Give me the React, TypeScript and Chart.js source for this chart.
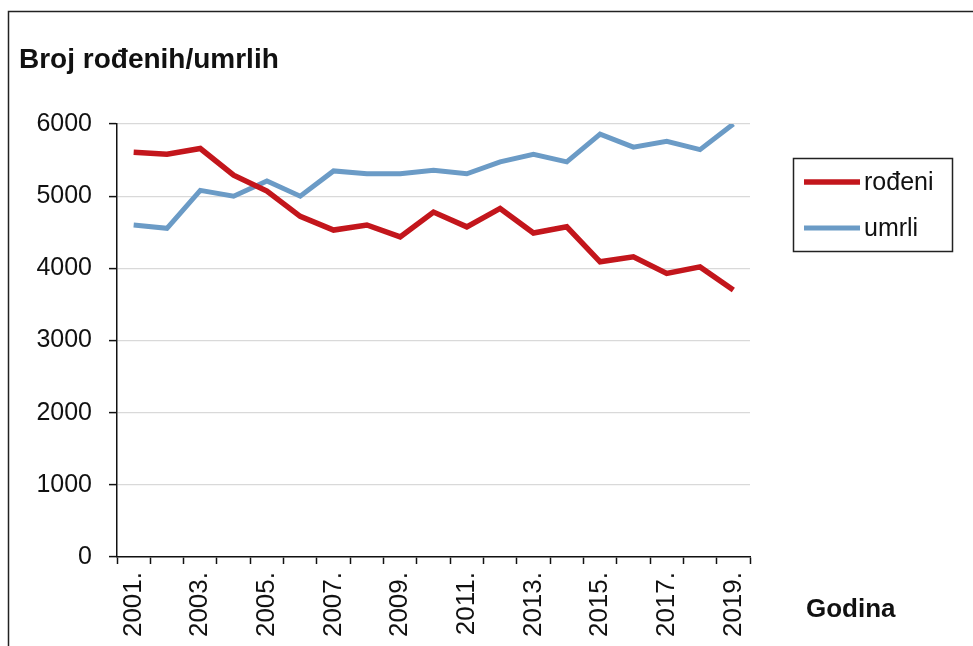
import React, { useEffect, useRef } from "react";
import { Chart, registerables } from "chart.js";

Chart.register(...registerables);

const years = ["2001.", "2002.", "2003.", "2004.", "2005.", "2006.", "2007.", "2008.", "2009.", "2010.", "2011.", "2012.", "2013.", "2014.", "2015.", "2016.", "2017.", "2018.", "2019."];
const rodeni = [5610, 5580, 5660, 5290, 5070, 4720, 4530, 4600, 4435, 4780, 4575, 4830, 4490, 4575, 4090, 4160, 3930, 4020, 3700];
const umrli = [4600, 4555, 5080, 5000, 5210, 5000, 5350, 5310, 5310, 5360, 5310, 5475, 5580, 5475, 5860, 5680, 5760, 5645, 6000];
const yTicks = [0, 1000, 2000, 3000, 4000, 5000, 6000];
const titleText = "Broj rođenih/umrlih";
const xTitleText = "Godina";

const FONT = "'Liberation Sans', Arial, sans-serif";
const RED = "#C3161C";
const BLUE = "#6B9BC6";

const decorPlugin = {
  id: "decor",
  beforeDraw(chart: any) {
    const ctx = chart.ctx;
    ctx.save();
    ctx.fillStyle = "#fff";
    ctx.fillRect(0, 0, chart.width, chart.height);
    ctx.strokeStyle = "#222";
    ctx.lineWidth = 1.5;
    ctx.beginPath();
    ctx.moveTo(8.5, chart.height);
    ctx.lineTo(8.5, 11.5);
    ctx.lineTo(chart.width, 11.5);
    ctx.stroke();
    ctx.restore();
  },
  afterDraw(chart: any) {
    const ctx = chart.ctx;
    ctx.save();
    ctx.fillStyle = "#111";
    ctx.textBaseline = "alphabetic";
    ctx.textAlign = "left";
    ctx.font = `bold 28px ${FONT}`;
    ctx.fillText(titleText, 19, 68);
    ctx.font = `bold 26px ${FONT}`;
    ctx.fillText(xTitleText, 806, 617);

    // legend
    const bx = 793.5, by = 158.5, bw = 159, bh = 93;
    ctx.strokeStyle = "#222";
    ctx.lineWidth = 1.5;
    ctx.strokeRect(bx, by, bw, bh);
    const rows = [182, 228];
    chart.data.datasets.forEach((ds: any, i: number) => {
      const y = rows[i];
      ctx.strokeStyle = ds.borderColor;
      ctx.lineWidth = ds.borderWidth;
      ctx.beginPath();
      ctx.moveTo(804, y);
      ctx.lineTo(860, y);
      ctx.stroke();
      ctx.fillStyle = "#111";
      ctx.font = `25px ${FONT}`;
      ctx.textBaseline = "middle";
      ctx.fillText(ds.label, 864, y + 1);
    });
    ctx.restore();
  },
};

export default function App() {
  const ref = useRef<HTMLCanvasElement>(null);
  useEffect(() => {
    if (!ref.current) return;
    const chart = new Chart(ref.current, {
      type: "line",
      data: {
        labels: years,
        datasets: [
          { label: "rođeni", data: rodeni, borderColor: RED, backgroundColor: RED, borderWidth: 5.5, pointRadius: 0, tension: 0 },
          { label: "umrli", data: umrli, borderColor: BLUE, backgroundColor: BLUE, borderWidth: 5, pointRadius: 0, tension: 0 },
        ],
      },
      options: {
        responsive: false,
        animation: false,
        layout: { padding: { left: 0, top: 124, right: 223, bottom: 0 } },
        plugins: { legend: { display: false }, tooltip: { enabled: false }, title: { display: false } },
        scales: {
          x: {
            type: "category",
            offset: true,
            grid: { display: true, drawOnChartArea: false, offset: true, tickLength: 7, tickColor: "#111", tickWidth: 1.5 },
            border: { color: "#111", width: 1.5 },
            ticks: {
              autoSkip: false,
              maxRotation: 90,
              minRotation: 90,
              padding: 8,
              color: "#111",
              font: { size: 26, family: FONT },
              callback: (_v: any, i: number) => (i % 2 === 0 ? years[i] : ""),
            },
            afterFit: (s: any) => { s.height = 89; },
          },
          y: {
            min: 0,
            max: 6000,
            afterBuildTicks: (s: any) => { s.ticks = yTicks.map((v) => ({ value: v })); },
            grid: { color: "#d9d9d9", lineWidth: 1.2, tickColor: "#111", tickLength: 8, tickWidth: 1.5 },
            border: { color: "#111", width: 1.5 },
            ticks: { padding: 17, color: "#111", font: { size: 25, family: FONT }, callback: (v: any) => String(v) },
            afterFit: (s: any) => { s.width = 117; },
          },
        },
      },
      plugins: [decorPlugin],
    });
    return () => chart.destroy();
  }, []);
  return (
    <div style={{ position: "fixed", left: 0, top: 0, width: 973, height: 646, background: "#fff" }}>
      <canvas ref={ref} width={973} height={646} style={{ display: "block", width: 973, height: 646 }} />
    </div>
  );
}
